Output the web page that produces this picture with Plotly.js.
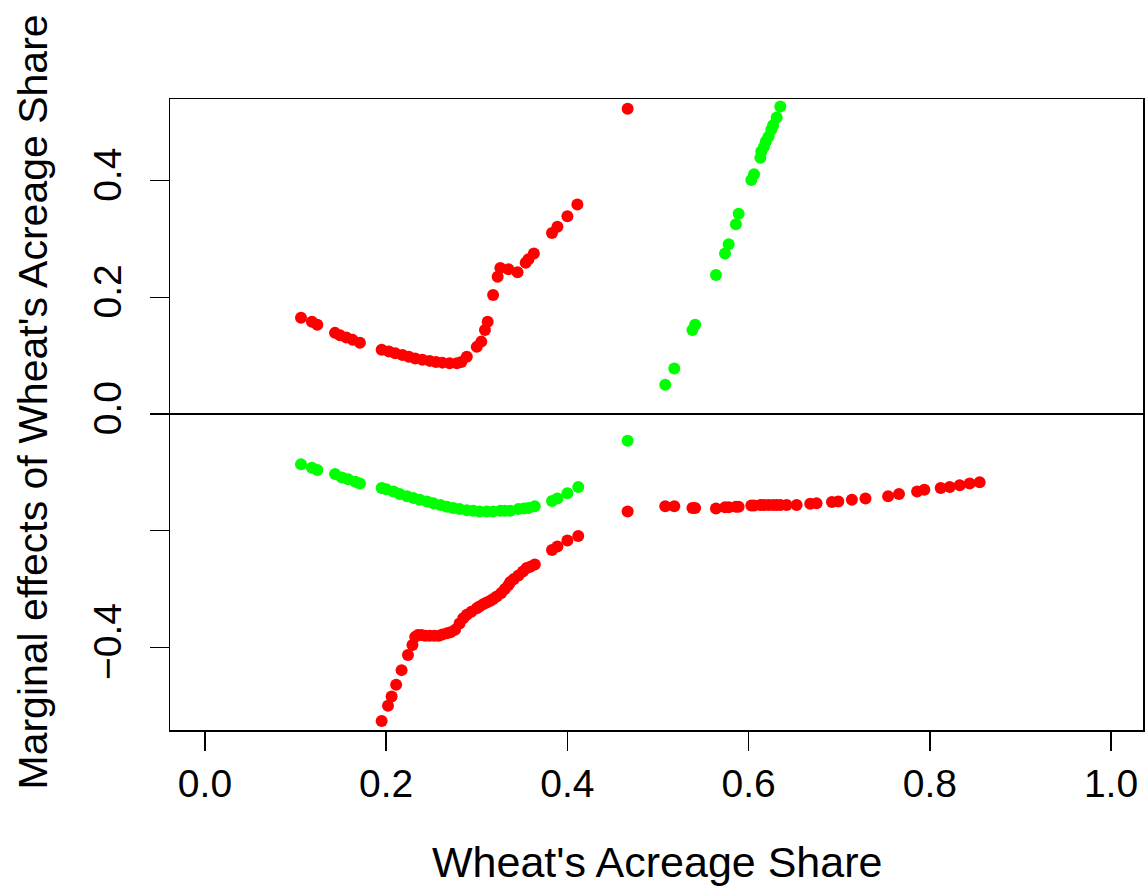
<!DOCTYPE html>
<html>
<head>
<meta charset="utf-8">
<script src="https://cdn.plot.ly/plotly-3.0.1.min.js"></script>
<style>
  html, body { margin: 0; padding: 0; background: #ffffff; }
  #chart { width: 1148px; height: 893px; }
</style>
</head>
<body>
<div id="chart"></div>
<script>
// ---- Data ----
const redUpperX = [0.106,0.118,0.124,0.1435,0.149,0.156,0.163,0.171,0.195,0.203,0.210,0.218,0.225,0.232,0.240,0.248,0.255,0.262,0.270,0.278,0.283,0.289,0.300,0.305,0.309,0.312,0.318,0.323,0.326,0.335,0.345,0.354,0.357,0.363,0.383,0.389,0.400,0.411];
const redUpperY = [0.165,0.158,0.153,0.139,0.135,0.131,0.127,0.122,0.110,0.107,0.104,0.101,0.098,0.095,0.093,0.091,0.089,0.088,0.087,0.087,0.089,0.098,0.115,0.124,0.144,0.158,0.204,0.235,0.250,0.248,0.243,0.259,0.265,0.275,0.310,0.321,0.339,0.359];

const greenLowerX = [0.106,0.118,0.124,0.1435,0.151,0.158,0.166,0.171,0.195,0.200,0.208,0.215,0.223,0.230,0.237,0.245,0.252,0.260,0.267,0.274,0.281,0.289,0.296,0.303,0.311,0.318,0.326,0.331,0.337,0.346,0.352,0.357,0.364,0.383,0.389,0.400,0.412];
const greenLowerY = [-0.086,-0.092,-0.096,-0.103,-0.109,-0.112,-0.116,-0.119,-0.127,-0.129,-0.133,-0.137,-0.141,-0.144,-0.147,-0.150,-0.153,-0.156,-0.159,-0.161,-0.163,-0.165,-0.166,-0.167,-0.167,-0.167,-0.166,-0.166,-0.166,-0.163,-0.162,-0.161,-0.158,-0.149,-0.145,-0.136,-0.125];

const redLowerLeftX = [0.195,0.202,0.206,0.211,0.217,0.224,0.229,0.232,0.235,0.239,0.243,0.248,0.253,0.258,0.262,0.267,0.271,0.276,0.281,0.285,0.289,0.294,0.300,0.303,0.307,0.311,0.315,0.318,0.322,0.327,0.331,0.335,0.337,0.341,0.346,0.351,0.355,0.359,0.364,0.383,0.389,0.400,0.412];
const redLowerLeftY = [-0.526,-0.500,-0.484,-0.464,-0.439,-0.413,-0.396,-0.382,-0.379,-0.379,-0.380,-0.380,-0.380,-0.380,-0.378,-0.376,-0.374,-0.370,-0.359,-0.350,-0.344,-0.339,-0.333,-0.330,-0.326,-0.323,-0.320,-0.317,-0.313,-0.307,-0.300,-0.293,-0.288,-0.283,-0.277,-0.270,-0.264,-0.262,-0.258,-0.233,-0.227,-0.217,-0.209];

const greenUpperX = [0.508,0.518,0.538,0.541,0.564,0.574,0.578,0.586,0.589,0.603,0.606,0.613,0.614,0.617,0.619,0.622,0.625,0.627,0.631,0.635];
const greenUpperY = [0.050,0.078,0.144,0.153,0.238,0.275,0.291,0.325,0.343,0.401,0.411,0.439,0.450,0.458,0.467,0.475,0.487,0.495,0.508,0.527];

const redLowerRightX = [0.508,0.518,0.538,0.541,0.564,0.574,0.578,0.586,0.589,0.603,0.606,0.613,0.617,0.622,0.627,0.631,0.635,0.642,0.653,0.668,0.675,0.692,0.699,0.714,0.729,0.754,0.766,0.786,0.794,0.812,0.822,0.833,0.844,0.855];
const redLowerRightY = [-0.158,-0.158,-0.161,-0.161,-0.162,-0.160,-0.160,-0.159,-0.159,-0.157,-0.157,-0.156,-0.156,-0.156,-0.156,-0.156,-0.156,-0.156,-0.156,-0.154,-0.153,-0.151,-0.150,-0.147,-0.145,-0.141,-0.137,-0.133,-0.130,-0.127,-0.125,-0.122,-0.119,-0.117];

const midX = [0.4665];
const midRedHighY = [0.523];
const midRedLowY = [-0.167];
const midGreenY = [-0.046];

const xTickVals = [0, 0.2, 0.4, 0.6, 0.8, 1.0];
const xTickText = ["0.0", "0.2", "0.4", "0.6", "0.8", "1.0"];
const yTickVals = [-0.4, -0.2, 0, 0.2, 0.4];
const yTickText = ["\u22120.4", "", "0.0", "0.2", "0.4"];

const xTitle = "Wheat's Acreage Share";
const yTitle = "Marginal effects of Wheat's Acreage Share";

// ---- Build traces ----
const RED = "#FF0000", GREEN = "#00FF00";
const FONT = "Liberation Sans, Arial, Helvetica, sans-serif";

function pts(x, y, color) {
  return {
    type: "scatter", mode: "markers", x: x, y: y,
    marker: { color: color, size: 12, line: { width: 0 } },
    hoverinfo: "x+y", showlegend: false, cliponaxis: true
  };
}

const traces = [
  pts(redUpperX, redUpperY, RED),
  pts(greenLowerX, greenLowerY, GREEN),
  pts(redLowerLeftX, redLowerLeftY, RED),
  pts(greenUpperX, greenUpperY, GREEN),
  pts(redLowerRightX, redLowerRightY, RED),
  pts(midX, midRedHighY, RED),
  pts(midX, midRedLowY, RED),
  pts(midX, midGreenY, GREEN)
];

const layout = {
  width: 1148, height: 893,
  margin: { l: 170, r: 5, t: 99, b: 163 },
  paper_bgcolor: "#ffffff", plot_bgcolor: "#ffffff",
  font: { family: FONT, color: "#000000", size: 39 },
  showlegend: false,
  xaxis: {
    range: [-0.0386, 1.0353],
    tickmode: "array", tickvals: xTickVals, ticktext: xTickText,
    ticks: "outside", ticklen: 19, tickwidth: 1.5, tickcolor: "#000",
    showline: true, linecolor: "#000", linewidth: 1.5, mirror: true,
    showgrid: false, zeroline: false,
    tickfont: { family: FONT, size: 39, color: "#000" }
  },
  yaxis: {
    range: [-0.5416, 0.5398],
    tickmode: "array", tickvals: yTickVals, ticktext: yTickText,
    tickangle: -90, ticklabelstandoff: 13,
    ticks: "outside", ticklen: 19, tickwidth: 1.5, tickcolor: "#000",
    showline: true, linecolor: "#000", linewidth: 1.5, mirror: true,
    showgrid: false,
    zeroline: true, zerolinecolor: "#000", zerolinewidth: 1.5,
    tickfont: { family: FONT, size: 39, color: "#000" }
  },
  annotations: [
    { text: xTitle, xref: "paper", yref: "paper", x: 0.5, y: 0,
      xanchor: "center", yanchor: "middle", yshift: -132, showarrow: false,
      font: { family: FONT, size: 43, color: "#000" } },
    { text: yTitle, xref: "paper", yref: "paper", x: 0, y: 0.5,
      xanchor: "center", yanchor: "middle", xshift: -138, yshift: 12, textangle: -90, showarrow: false,
      font: { family: FONT, size: 41, color: "#000" } }
  ]
};

Plotly.newPlot("chart", traces, layout, { displayModeBar: false, staticPlot: true });
</script>
</body>
</html>
